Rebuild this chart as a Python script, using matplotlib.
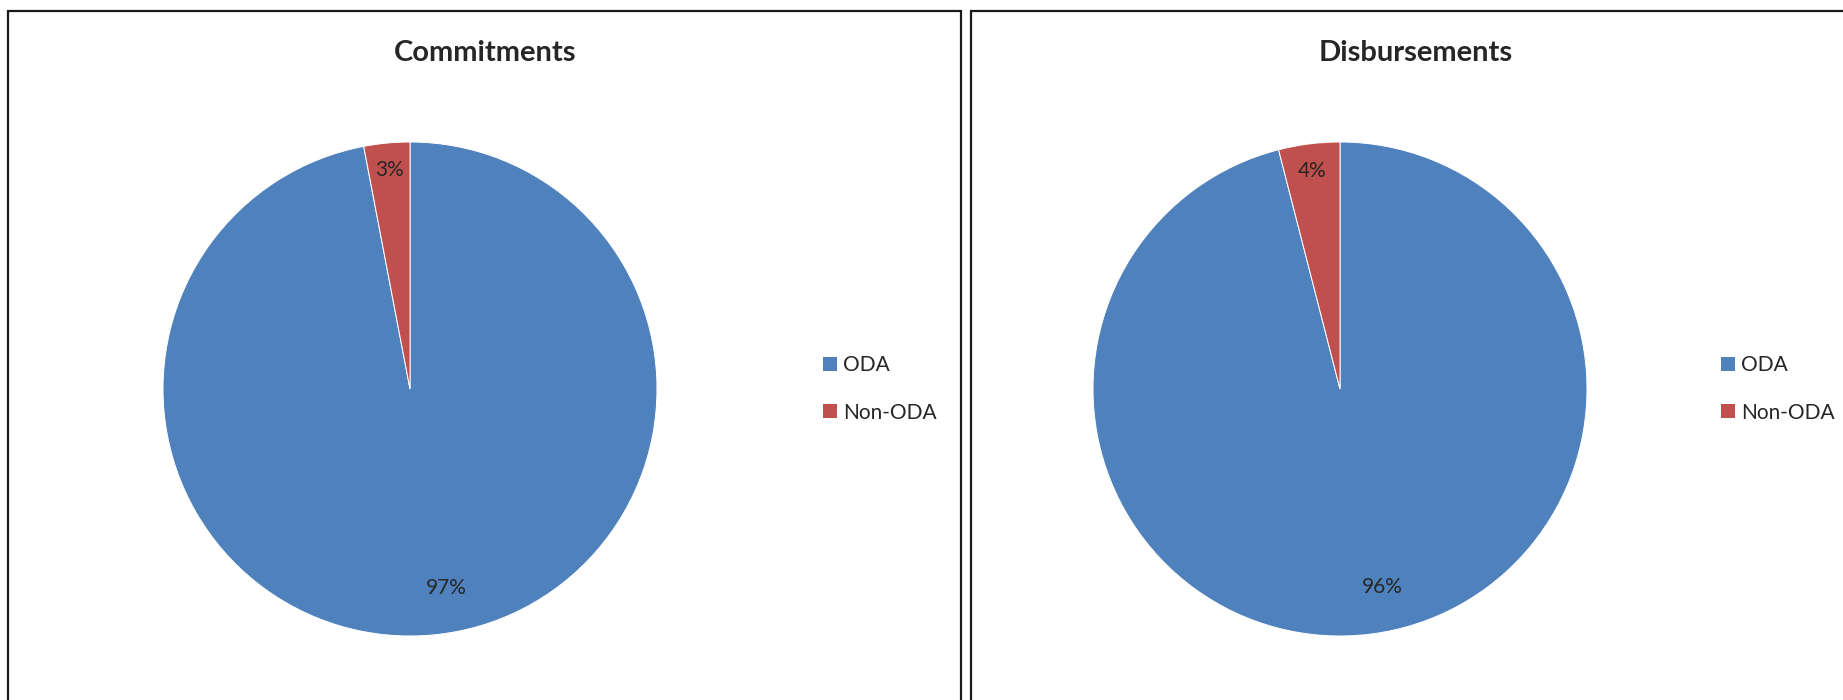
import matplotlib
matplotlib.use("Agg")
import matplotlib.pyplot as plt
from matplotlib.patches import Rectangle, Patch
import numpy as np

plt.rcParams['font.family'] = ['Lato', 'DejaVu Sans']

# Data
categories = ["ODA", "Non-ODA"]
titles = ["Commitments", "Disbursements"]
commitments = [97, 3]
disbursements = [96, 4]
series = [commitments, disbursements]
pct_labels = [["97%", "3%"], ["96%", "4%"]]

colors = ["#4F81BD", "#C0504D"]
text_color = "#262626"

W, H = 1843, 700
fig = plt.figure(figsize=(W / 100, H / 100), dpi=100)
fig.patch.set_facecolor("white")

def fx(px):
    return px / W

def fy(py):
    return 1 - py / H

# Panel frames
panels = [(8, 961), (971, 1900)]
for x0, x1 in panels:
    fig.patches.append(Rectangle((fx(x0), -0.2), fx(x1) - fx(x0), fy(11) + 0.2,
                                 transform=fig.transFigure, fill=False,
                                 edgecolor="#1a1a1a", linewidth=1.6, zorder=0))

pie_centers = [(410, 389), (1340, 389)]
radius = 247
title_x = [485, 1416]
legend_x = [823, 1721]
# radial distance and angular shift (degrees) of each percentage label
label_dist = [0.82, 0.89]
label_shift = [5.0, 0.0]

for i, vals in enumerate(series):
    cx, cy = pie_centers[i]
    ax = fig.add_axes([fx(cx - radius), fy(cy + radius), 2 * radius / W, 2 * radius / H])
    wedges, _ = ax.pie(vals, colors=colors, startangle=90, counterclock=False,
                       wedgeprops=dict(edgecolor="white", linewidth=0.7))
    ax.set_xlim(-1, 1)
    ax.set_ylim(-1, 1)
    ax.set_aspect("equal")
    ax.axis("off")
    for w, lab, d, s in zip(wedges, pct_labels[i], label_dist, label_shift):
        ang = np.deg2rad((w.theta1 + w.theta2) / 2 + s)
        ax.text(d * np.cos(ang), d * np.sin(ang), lab, ha="center", va="center",
                fontsize=15, color=text_color)

    fig.text(fx(title_x[i]), fy(53), titles[i], ha="center", va="center",
             fontsize=21, fontweight="bold", color=text_color)

    handles = [Patch(facecolor=c, edgecolor="none") for c in colors]
    fig.legend(handles, categories, loc="center left",
               bbox_to_anchor=(fx(legend_x[i]), fy(389)),
               frameon=False, fontsize=15, handlelength=0.68, handleheight=0.68,
               handletextpad=0.3, labelspacing=1.3, borderpad=0, borderaxespad=0,
               labelcolor=text_color)

fig.savefig("out.png", dpi=100, facecolor="white")
